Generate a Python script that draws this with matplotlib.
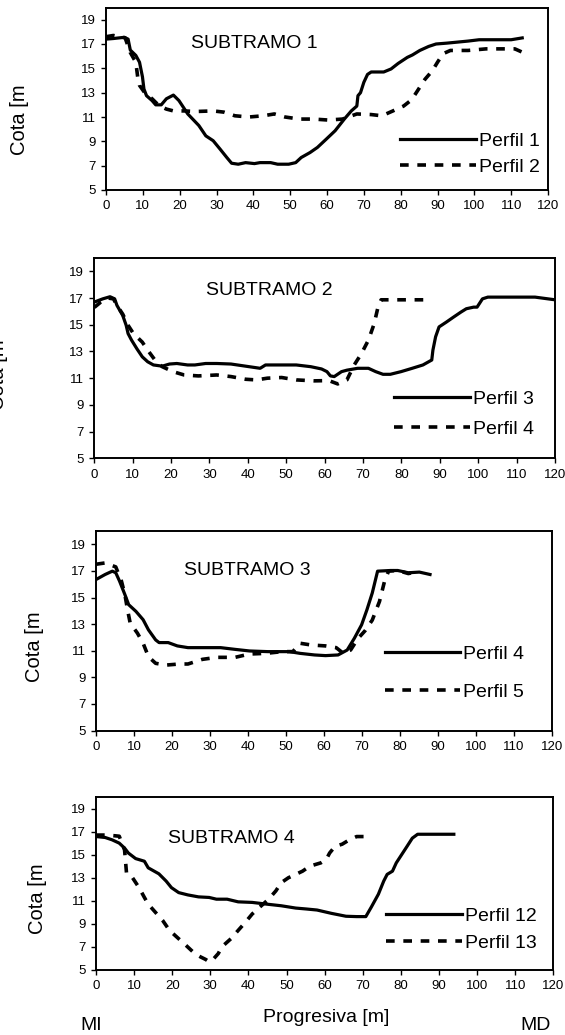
import matplotlib
matplotlib.use('Agg')
import matplotlib.pyplot as plt

plt.rcParams['font.family'] = ['Liberation Sans', 'DejaVu Sans']

# ---- data (progresiva [m], cota [m]) ----
perfil1_x = [0, 2, 5, 6, 6.6, 8.1, 9.1, 9.9, 10.3, 11, 12.5, 13.5, 15, 16.4, 18.3, 19.8, 22.2, 25.2,
             27.1, 29.1, 31, 32.8, 34.1, 35.9, 37.9, 40.3, 41.8, 44.7, 46.6, 49.6, 51.5, 53, 55.4,
             57.4, 59.8, 62.2, 64.7, 66.6, 68.1, 68.4, 69.1, 70, 71, 72, 75.4, 77.4, 79.3, 81.8,
             83.2, 85.2, 87.6, 89.6, 92.5, 98.3, 101.3, 108.1, 110, 113]
perfil1_y = [17.4, 17.45, 17.55, 17.4, 16.5, 16.06, 15.5, 14.3, 13.3, 12.75, 12.35, 12.0, 12.0,
             12.5, 12.8, 12.35, 11.25, 10.3, 9.45, 9.05, 8.35, 7.67, 7.2, 7.12, 7.25, 7.17, 7.25,
             7.25, 7.12, 7.12, 7.25, 7.67, 8.08, 8.5, 9.18, 9.87, 10.83, 11.5, 11.9, 12.75, 13.0,
             13.85, 14.5, 14.7, 14.7, 14.95, 15.4, 15.9, 16.1, 16.47, 16.8, 17.0, 17.07, 17.24,
             17.35, 17.35, 17.35, 17.5]

perfil2_x = [0, 2, 5.2, 6.6, 8.1, 8.6, 9.1, 10.5, 12.5, 14.4, 16.4, 18.3, 21.3, 24.2, 29.1, 32, 35,
             38.8, 42.7, 45.7, 48.6, 52.5, 56.4, 60.3, 64.2, 68.1, 72, 74.9, 77.9, 80.8, 82.7, 83.7,
             85.2, 86.6, 88.6, 90, 91.5, 93.5, 98.3, 103.2, 108.1, 111, 113]
perfil2_y = [17.6, 17.7, 17.5, 16.3, 15.5, 14.3, 13.6, 13.0, 12.5, 11.93, 11.65, 11.5, 11.5, 11.45,
             11.5, 11.4, 11.1, 11.0, 11.1, 11.25, 11.0, 10.83, 10.83, 10.75, 10.83, 11.25, 11.2,
             11.1, 11.5, 11.9, 12.35, 12.75, 13.45, 14.1, 14.8, 15.5, 16.2, 16.47, 16.47, 16.6,
             16.6, 16.6, 16.33]

perfil3_x = [0, 2.2, 4.1, 5.3, 5.9, 7.4, 8.3, 8.8, 9.7, 11.1, 12.5, 13.9, 15.4, 17.7, 19.6, 21.5,
             24.3, 26.2, 29, 31.9, 35.6, 39.4, 43.2, 44.6, 48.8, 52.6, 56.4, 59.2, 60.6, 61.5, 62.5,
             64.4, 65.8, 68.6, 71.4, 73.3, 75.2, 77.1, 79.9, 82.8, 85.6, 87.9, 88.2, 88.9, 89.8,
             91.7, 93.6, 95.5, 96.9, 98.8, 99.7, 101.1, 102.5, 107.3, 114.8, 120]
perfil3_y = [16.7, 16.94, 17.1, 16.94, 16.45, 15.7, 14.96, 14.34, 13.85, 13.2, 12.6, 12.23, 11.99,
             11.9, 12.06, 12.1, 11.99, 11.99, 12.1, 12.1, 12.06, 11.9, 11.74, 11.99, 11.99, 11.99,
             11.86, 11.69, 11.49, 11.17, 11.12, 11.49, 11.6, 11.74, 11.74, 11.49, 11.29, 11.29,
             11.49, 11.74, 11.99, 12.36, 13.1, 14.1, 14.84, 15.2, 15.58, 15.95, 16.2, 16.32, 16.32,
             16.94, 17.07, 17.07, 17.07, 16.87]

# Perfil 4 as drawn in subtramo 2
perfil4a_x = [0, 1.7, 3.6, 5, 5.9, 7.4, 8.8, 10.2, 12.5, 13.9, 15.8, 17.7, 20.5, 23.4, 27.1, 31.9,
              35.6, 39.4, 42.2, 45.1, 48.8, 52.6, 57.3, 61.1, 63.4, 65.8, 67.7, 69.6, 71.4, 72.9,
              73.8, 74.7, 79, 86]
perfil4a_y = [16.3, 16.7, 17.0, 16.94, 16.45, 15.8, 14.96, 14.34, 13.7, 13.1, 12.36, 11.86, 11.49,
              11.24, 11.17, 11.24, 11.12, 10.92, 10.87, 11.0, 11.05, 10.87, 10.8, 10.82, 10.57,
              10.87, 11.99, 12.85, 13.85, 15.08, 16.2, 16.87, 16.87, 16.87]

# Perfil 4 as drawn in subtramo 3
perfil4b_x = [0, 2.4, 4.3, 5.2, 6.2, 7.6, 8.6, 10.5, 12.4, 13.8, 15.7, 16.6, 19, 21.4, 24.2, 28,
              32.8, 36.6, 40.4, 45.2, 50.9, 53.7, 57.5, 60.4, 63.7, 66.1, 68, 69.9, 71.3, 72.7,
              74.1, 77.5, 79.4, 82.2, 85.1, 87.9]
perfil4b_y = [16.35, 16.73, 16.98, 16.86, 16.23, 15.22, 14.46, 13.96, 13.33, 12.57, 11.81, 11.61,
              11.61, 11.36, 11.23, 11.23, 11.23, 11.1, 10.98, 10.93, 10.93, 10.8, 10.68, 10.63,
              10.68, 11.05, 11.94, 12.95, 14.08, 15.34, 16.98, 17.03, 17.03, 16.86, 16.91, 16.73]

perfil5_x = [0, 2.4, 5.2, 6.7, 7.6, 8.3, 9, 10.9, 12.4, 13.8, 15.7, 18.5, 21.9, 24.2, 28, 31.8,
             36.6, 40.4, 44.7, 49, 51.8, 53.7, 56.6, 60.4, 63.2, 65.1, 67, 68.9, 70.8, 72.7, 74.6,
             76, 77, 79.4, 82.2, 83.2]
perfil5_y = [17.5, 17.6, 17.3, 16.23, 15.22, 14.08, 13.07, 12.32, 11.56, 10.55, 10.05, 9.92, 10.0,
             10.0, 10.35, 10.5, 10.5, 10.75, 10.8, 10.93, 10.93, 11.56, 11.43, 11.36, 11.23, 10.8,
             11.05, 11.9, 12.5, 13.3, 14.7, 16.3, 16.98, 17.03, 16.8, 16.86]

perfil12_x = [0, 2.4, 4.2, 6.1, 7.5, 8.5, 10.4, 12.7, 13.7, 16.5, 18.4, 19.8, 21.7, 24.1, 26.9,
              29.7, 31.6, 34.4, 37.3, 41, 44.8, 48.6, 52.4, 55.2, 58, 61.8, 65.6, 68.4, 70.8, 72.2,
              74.1, 75.5, 76.4, 77.8, 78.8, 80.2, 81.6, 83, 84.4, 88.2, 93.9]
perfil12_y = [16.57, 16.49, 16.29, 16.0, 15.57, 15.14, 14.66, 14.43, 13.86, 13.34, 12.71, 12.14,
              11.71, 11.51, 11.34, 11.29, 11.14, 11.14, 10.91, 10.86, 10.71, 10.57, 10.37, 10.29,
              10.2, 9.91, 9.66, 9.63, 9.63, 10.43, 11.57, 12.71, 13.29, 13.57, 14.29, 15.0, 15.71,
              16.43, 16.77, 16.77, 16.77]

perfil13_x = [0, 3, 6.1, 7.5, 8, 9, 11.3, 12.7, 13.7, 15.6, 17.5, 19.3, 21.2, 23.6, 25.9, 27.4,
              28.8, 29.7, 30.7, 32.1, 33, 35.4, 37.3, 39.2, 41, 42.9, 45.3, 47.2, 48.6, 50.5, 52.4,
              54.2, 56.1, 59, 60.4, 61.3, 62.7, 64.6, 66.5, 68.4, 70.8]
perfil13_y = [16.7, 16.7, 16.6, 15.4, 13.43, 13.29, 12.14, 11.29, 10.71, 10.0, 9.29, 8.43, 7.86,
              7.14, 6.43, 6.14, 5.91, 5.71, 5.91, 6.43, 7.0, 7.71, 8.43, 9.14, 9.86, 10.43, 11.14,
              11.86, 12.57, 13.0, 13.29, 13.57, 14.0, 14.29, 14.57, 15.14, 15.71, 15.91, 16.29,
              16.57, 16.57]

x_ticks = list(range(0, 121, 10))
y_ticks = list(range(5, 20, 2))

W, H = 565, 1035


def rect(left, top, right, bottom):
    return [left / W, 1 - bottom / H, (right - left) / W, (bottom - top) / H]


panels = [
    dict(rect=rect(106, 7.5, 548, 190), title='SUBTRAMO 1', title_xy=(40.3, 17.0),
         solid=(perfil1_x, perfil1_y, 'Perfil 1'), dashed=(perfil2_x, perfil2_y, 'Perfil 2'),
         leg_xy=(0.665, 0.196), leg_space=0.45, ylab_xy=(-0.195, 0.388)),
    dict(rect=rect(94.3, 258, 555, 458.3), title='SUBTRAMO 2', title_xy=(45.5, 17.6),
         solid=(perfil3_x, perfil3_y, 'Perfil 3'), dashed=(perfil4a_x, perfil4a_y, 'Perfil 4'),
         leg_xy=(0.65, 0.22), leg_space=0.65, ylab_xy=(-0.207, 0.416)),
    dict(rect=rect(96, 531, 552, 730.5), title='SUBTRAMO 3', title_xy=(39.9, 17.0),
         solid=(perfil4b_x, perfil4b_y, 'Perfil 4'), dashed=(perfil5_x, perfil5_y, 'Perfil 5'),
         leg_xy=(0.633, 0.288), leg_space=1.05, ylab_xy=(-0.134, 0.42)),
    dict(rect=rect(96, 797, 553.3, 970), title='SUBTRAMO 4', title_xy=(35.6, 16.43),
         solid=(perfil12_x, perfil12_y, 'Perfil 12'), dashed=(perfil13_x, perfil13_y, 'Perfil 13'),
         leg_xy=(0.635, 0.233), leg_space=0.5, ylab_xy=(-0.129, 0.41)),
]

fig = plt.figure(figsize=(W / 100, H / 100), dpi=100)

for i, p in enumerate(panels):
    ax = fig.add_axes(p['rect'])
    sx, sy, slab = p['solid']
    dx, dy, dlab = p['dashed']
    ax.plot(sx, sy, color='black', linewidth=2.3, solid_joinstyle='round', label=slab)
    ax.plot(dx, dy, color='black', linewidth=2.6, dashes=(2.4, 2.4), label=dlab)

    ax.set_xlim(0, 120)
    ax.set_ylim(5, 20)
    ax.set_xticks(x_ticks)
    ax.set_yticks(y_ticks)
    ax.tick_params(direction='out', length=3.5, width=1, labelsize=9.5, pad=4, colors='black')
    for s in ax.spines.values():
        s.set_linewidth(1.4)

    ax.text(*p['title_xy'], p['title'], fontsize=14, ha='center', va='center')

    ax.legend(loc='center left', bbox_to_anchor=p['leg_xy'], frameon=False, fontsize=14,
              handlelength=3.9, handletextpad=0.15, labelspacing=p['leg_space'],
              borderpad=0, borderaxespad=0)

    ax.set_ylabel('Cota [m', fontsize=14.5, va='center')
    ax.yaxis.set_label_coords(*p['ylab_xy'])

    if i == len(panels) - 1:
        ax.set_xlabel('Progresiva [m]', fontsize=14, va='center')
        ax.xaxis.set_label_coords(0.503, -0.276)

fig.text(91 / W, 1 - 1025 / H, 'MI', fontsize=14, ha='center', va='center')
fig.text(536 / W, 1 - 1025 / H, 'MD', fontsize=14, ha='center', va='center')

fig.savefig('out.png', dpi=100)
